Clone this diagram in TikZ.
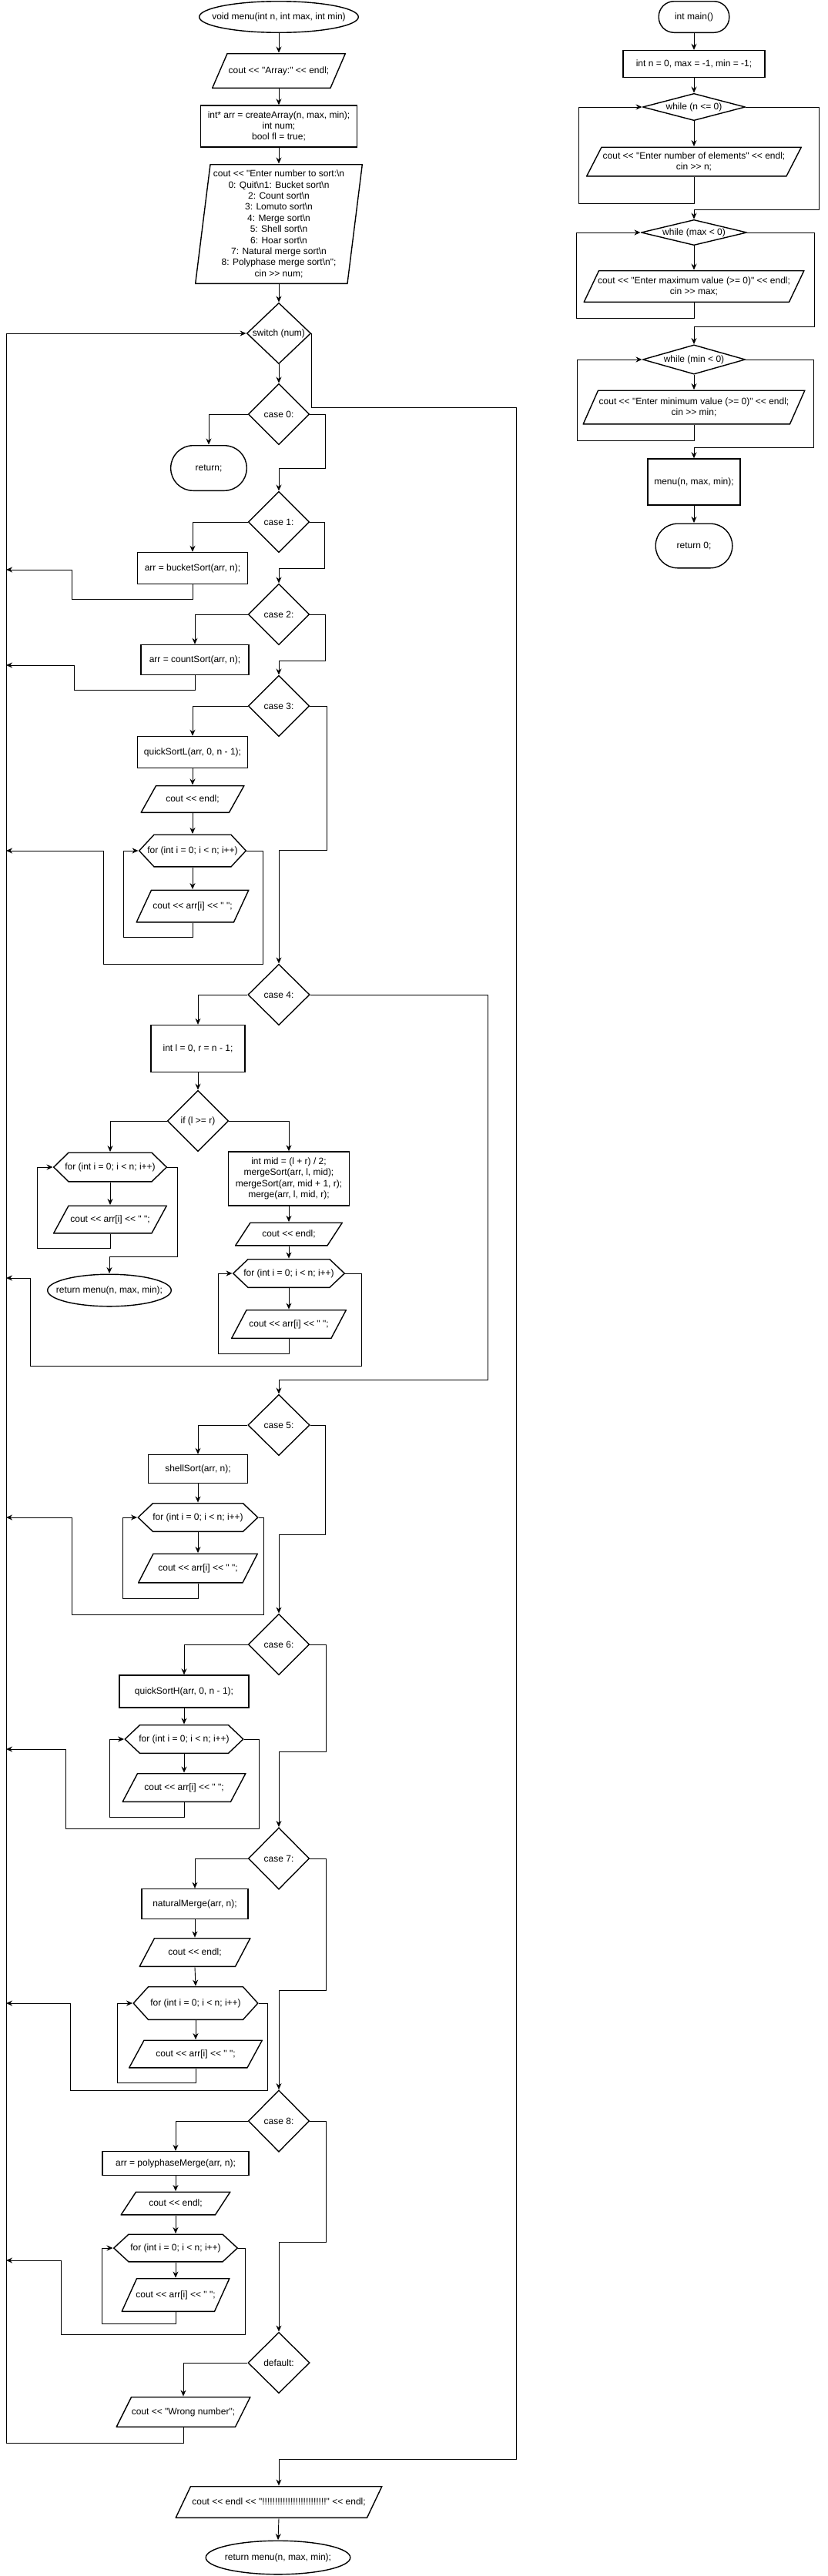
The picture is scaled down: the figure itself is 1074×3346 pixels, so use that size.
\documentclass[tikz,border=0pt]{standalone}
\usepackage{fontspec}
\setmainfont{Liberation Sans}[Ligatures=TeXOff]
\usepackage{tikz}
\usetikzlibrary{arrows.meta}

\newcommand{\bsn}{\textbackslash n}

\tikzset{
    every node/.style={font=\fontsize{12}{14.4}\selectfont, align=center, inner sep=0pt},
    sized/.style 2 args={rectangle, minimum width=#1, minimum height=#2},
    box/.style 2 args={sized={#1}{#2}, draw, line width=1.4pt},
    io/.style 2 args={sized={#1}{#2}, path picture={
        \draw[line width=1.4pt] ([shift={(20pt,-0.7pt)}]path picture bounding box.north west)
            -- ([shift={(-0.7pt,-0.7pt)}]path picture bounding box.north east)
            -- ([shift={(-20pt,0.7pt)}]path picture bounding box.south east)
            -- ([shift={(0.7pt,0.7pt)}]path picture bounding box.south west) -- cycle;}},
    dia/.style 2 args={sized={#1}{#2}, path picture={
        \draw[line width=1.4pt] ([yshift=-0.7pt]path picture bounding box.north)
            -- ([xshift=-0.7pt]path picture bounding box.east)
            -- ([yshift=0.7pt]path picture bounding box.south)
            -- ([xshift=0.7pt]path picture bounding box.west) -- cycle;}},
    hexa/.style 2 args={sized={#1}{#2}, path picture={
        \draw[line width=1.4pt] ([xshift=0.7pt]path picture bounding box.west)
            -- ([shift={(20pt,-0.7pt)}]path picture bounding box.north west)
            -- ([shift={(-20pt,-0.7pt)}]path picture bounding box.north east)
            -- ([xshift=-0.7pt]path picture bounding box.east)
            -- ([shift={(-20pt,0.7pt)}]path picture bounding box.south east)
            -- ([shift={(20pt,0.7pt)}]path picture bounding box.south west) -- cycle;}},
    stad/.style 2 args={sized={#1}{#2}, path picture={
        \draw[line width=1.4pt, rounded corners=#2/2*1pt-1pt]
            ([shift={(0.7pt,-0.7pt)}]path picture bounding box.north west)
            rectangle ([shift={(-0.7pt,0.7pt)}]path picture bounding box.south east);}},
    oval/.style 2 args={sized={#1}{#2}, path picture={
        \draw[line width=1.4pt] (path picture bounding box.center)
            ellipse [x radius=#1/2*1pt-0.7pt, y radius=#2/2*1pt-0.7pt];}}
}

\begin{document}
\begin{tikzpicture}[x=1pt, y=-1pt, line width=0.9pt, >={Stealth[length=8pt,width=7pt]}]

    \useasboundingbox (0,0) rectangle (1074,3346);

    % main()
    \node[stad={93}{42}] (ms) at (901,22) {int main()};
    \node[box={184}{35}] (mi) at (901,83) {int n = 0, max = -1, min = -1;};
    \node[dia={134}{36}] (wn) at (901,139) {while (n <= 0)};
    \node[io={280}{39}] (rn) at (901,210) {cout << "Enter number of elements" << endl;\\cin >> n;};
    \node[dia={138}{34}] (wx) at (901,302) {while (max < 0)};
    \node[io={287}{42}] (rx) at (901,372) {cout << "Enter maximum value (>= 0)" << endl;\\cin >> max;};
    \node[dia={134}{39}] (wi) at (901,467) {while (min < 0)};
    \node[io={289}{45}] (ri) at (901,529) {cout << "Enter minimum value (>= 0)" << endl;\\cin >> min;};
    \node[box={120}{60}] (cm) at (901,626) {menu(n, max, min);};
    \node[stad={101}{59}] (me) at (901,709) {return 0;};

    % main() connectors
    \foreach \a/\b in {ms/mi, mi/wn, wn/rn, wx/rx, wi/ri, cm/me}
        \draw[->] (\a.south) -- (\b.north);
    \draw[->] (rn.south) |- (751,264) |- (wn.west);
    \draw[->] (wn.east) -| (1063,272) -| (wx.north);
    \draw[->] (rx.south) |- (748,413) |- (wx.west);
    \draw[->] (wx.east) -| (1057,424) -| (wi.north);
    \draw[->] (ri.south) |- (749,572) |- (wi.west);
    \draw[->] (wi.east) -| (1056,581) -| (cm.north);

    % menu() head
    \node[oval={208}{42}] (vm) at (362,22) {void menu(int n, int max, int min)};
    \node[io={174}{46}] (oa) at (362,92) {cout << "Array:" << endl;};
    \node[box={203}{54}] (ia) at (362,164) {int* arr = createArray(n, max, min);\\int num;\\bool fl = true;};
    \node[io={218}{156}] (an) at (362,291) {cout << "Enter number to sort:\bsn\\
        0: Quit\bsn1: Bucket sort\bsn\\2: Count sort\bsn\\3: Lomuto sort\bsn\\
        4: Merge sort\bsn\\5: Shell sort\bsn\\6: Hoar sort\bsn\\7: Natural merge sort\bsn\\
        8: Polyphase merge sort\bsn";\\cin >> num;};
    \node[dia={84}{80}] (sw) at (362,433) {switch (num)};

    % case 0 .. case 2
    \node[dia={80}{80}] (c0) at (362,538) {case 0:};
    \node[stad={100}{60}] (r0) at (271,608) {return;};
    \node[dia={80}{80}] (c1) at (362,678) {case 1:};
    \node[box={143}{41}] (bs) at (250,738) {arr = bucketSort(arr, n);};
    \node[dia={80}{80}] (c2) at (362,798) {case 2:};
    \node[box={140}{39}] (cs) at (253,857) {arr = countSort(arr, n);};

    % case 3
    \node[dia={80}{80}] (c3) at (362,917) {case 3:};
    \node[box={143}{41}] (ql) at (250,977) {quickSortL(arr, 0, n - 1);};
    \node[io={135}{36}] (e3) at (250,1038) {cout << endl;};
    \node[hexa={140}{43}] (f3) at (250,1105) {for (int i = 0; i < n; i++)};
    \node[io={147}{43}] (o3) at (250,1177) {cout << arr[i] << " ";};

    % case 4
    \node[dia={81}{80}] (c4) at (362,1292) {case 4:};
    \node[box={122}{61}] (lr) at (257,1362) {int l = 0, r = n - 1;};
    \node[dia={80}{80}] (ifl) at (257,1456) {if (l >= r)};
    \node[hexa={148}{39}] (f4) at (143,1516) {for (int i = 0; i < n; i++)};
    \node[io={148}{37}] (o4) at (143,1584) {cout << arr[i] << " ";};
    \node[oval={162}{43}] (r4) at (142,1676) {return menu(n, max, min);};
    \node[box={157}{70}] (mg) at (375,1531) {int mid = (l + r) / 2;\\mergeSort(arr, l, mid);\\mergeSort(arr, mid + 1, r);\\merge(arr, l, mid, r);};
    \node[io={140}{31}] (e4) at (375,1603) {cout << endl;};
    \node[hexa={146}{38}] (g4) at (375,1654) {for (int i = 0; i < n; i++)};
    \node[io={150}{38}] (p4) at (375,1720) {cout << arr[i] << " ";};

    % case 5
    \node[dia={81}{80}] (c5) at (362,1851) {case 5:};
    \node[box={129}{37}] (sh) at (257,1908) {shellSort(arr, n);};
    \node[hexa={157}{38}] (f5) at (257,1971) {for (int i = 0; i < n; i++)};
    \node[io={156}{39}] (o5) at (257,2037) {cout << arr[i] << " ";};

    % case 6
    \node[dia={80}{80}] (c6) at (362,2136) {case 6:};
    \node[box={168}{42}] (qh) at (239,2197) {quickSortH(arr, 0, n - 1);};
    \node[hexa={155}{38}] (f6) at (239,2259) {for (int i = 0; i < n; i++)};
    \node[io={161}{38}] (o6) at (239,2322) {cout << arr[i] << " ";};

    % case 7
    \node[dia={80}{81}] (c7) at (362,2414) {case 7:};
    \node[box={138}{39}] (nm) at (253,2473) {naturalMerge(arr, n);};
    \node[io={145}{38}] (e7) at (253,2536) {cout << endl;};
    \node[hexa={163}{44}] (f7) at (254,2602) {for (int i = 0; i < n; i++)};
    \node[io={174}{37}] (o7) at (254,2668) {cout << arr[i] << " ";};

    % case 8
    \node[dia={80}{81}] (c8) at (362,2755) {case 8:};
    \node[box={190}{31}] (pm) at (228,2810) {arr = polyphaseMerge(arr, n);};
    \node[io={143}{31}] (e8) at (228,2862) {cout << endl;};
    \node[hexa={162}{37}] (f8) at (228,2920) {for (int i = 0; i < n; i++)};
    \node[io={141}{44}] (o8) at (228,2981) {cout << arr[i] << " ";};

    % default and exit
    \node[dia={81}{80}] (df) at (362,3069) {default:};
    \node[io={175}{40}] (wr) at (238,3133) {cout << "Wrong number";};
    \node[io={269}{42}] (fo) at (362,3250) {cout << endl << "!!!!!!!!!!!!!!!!!!!!!!!!!" << endl;};
    \node[oval={189}{45}] (fr) at (361,3322) {return menu(n, max, min);};

    % Return points on the left rail
    \foreach \n/\y in {b1/740, b2/864, b3/1105, b4/1660, b5/1971, b6/2272, b7/2602, b8/2936}
        \coordinate (\n) at (8,\y);

    % Straight steps
    \foreach \a/\b in {vm/oa, oa/ia, ia/an, an/sw, sw/c0, ql/e3, e3/f3, f3/o3, lr/ifl, f4/o4,
                       mg/e4, e4/g4, g4/p4, sh/f5, f5/o5, qh/f6, f6/o6, nm/e7, e7/f7, f7/o7,
                       pm/e8, e8/f8, f8/o8, fo/fr}
        \draw[->] (\a.south) -- (\b.north);

    % Case branches
    \foreach \c/\d in {c0/r0, c1/bs, c2/cs, c3/ql, c4/lr, ifl/f4, c5/sh, c6/qh, c7/nm, c8/pm, df/wr}
        \draw[->] (\c.west) -| (\d.north);
    \draw[->] (ifl.east) -| (mg.north);

    % Fall through to next case
    \draw[->] (c0.east) -| (422,608) -| (c1.north);
    \draw[->] (c1.east) -| (421,738) -| (c2.north);
    \draw[->] (c2.east) -| (422,858) -| (c3.north);
    \draw[->] (c3.east) -| (424,1104) -| (c4.north);
    \draw[->] (c4.east) -| (633,1792) -| (c5.north);
    \draw[->] (c5.east) -| (422,1993) -| (c6.north);
    \draw[->] (c6.east) -| (423,2275) -| (c7.north);
    \draw[->] (c7.east) -| (423,2585) -| (c8.north);
    \draw[->] (c8.east) -| (423,2912) -| (df.north);

    % for loops
    \draw[->] (o3.south) |- (160,1217) |- (f3.west);
    \draw[->] (o4.south) |- (48,1621) |- (f4.west);
    \draw[->] (p4.south) |- (283,1758) |- (g4.west);
    \draw[->] (o5.south) |- (159,2076) |- (f5.west);
    \draw[->] (o6.south) |- (142,2360) |- (f6.west);
    \draw[->] (o7.south) |- (152,2705) |- (f7.west);
    \draw[->] (o8.south) |- (132,3018) |- (f8.west);
    \draw[->] (f4.east) -| (230,1632) -| (r4.north);

    % Back to the switch
    \draw[->] (bs.south) |- (93,778) |- (b1);
    \draw[->] (cs.south) |- (96,896) |- (b2);
    \draw[->] (f3.east) -| (341,1252) -| (134,1105) -- (b3);
    \draw[->] (g4.east) -| (469,1774) -| (39,1660) -- (b4);
    \draw[->] (f5.east) -| (342,2097) -| (93,1971) -- (b5);
    \draw[->] (f6.east) -| (336,2375) -| (85,2272) -- (b6);
    \draw[->] (f7.east) -| (347,2715) -| (91,2602) -- (b7);
    \draw[->] (f8.east) -| (318,3032) -| (79,2936) -- (b8);
    \draw[->] (wr.south) |- (8,3173) |- (sw.west);

    % Leave the switch
    \draw[->] (sw.east) |- (670,529) |- (362,3194) -- (fo.north);

\end{tikzpicture}
\end{document}
